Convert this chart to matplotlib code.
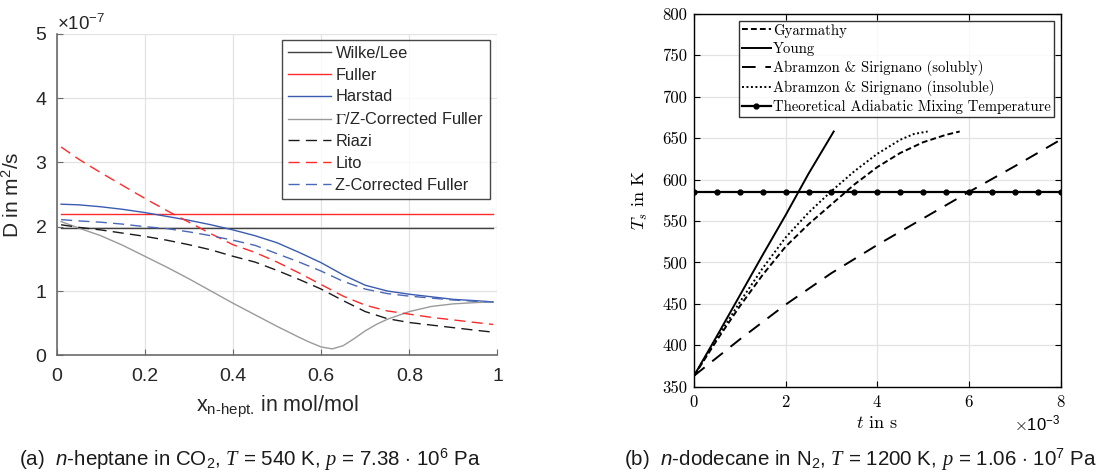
import numpy as np
import matplotlib
matplotlib.use("Agg")
import matplotlib.pyplot as plt
from matplotlib.ticker import ScalarFormatter

plt.rcParams['font.family'] = ['Liberation Sans', 'DejaVu Sans']
plt.rcParams['mathtext.fontset'] = 'custom'
plt.rcParams['mathtext.rm'] = 'Liberation Sans'
plt.rcParams['mathtext.it'] = 'Liberation Serif:italic'
plt.rcParams['mathtext.sf'] = 'Liberation Sans:italic'
plt.rcParams['mathtext.bf'] = 'Liberation Sans:bold'

# ---- (a) diffusion coefficients, values in 1e-7 m^2/s ----
x_hept = [0.01, 0.05, 0.1, 0.15, 0.2, 0.25, 0.3, 0.35, 0.4, 0.45, 0.5, 0.55,
          0.6, 0.65, 0.7, 0.75, 0.8, 0.85, 0.9, 0.95, 0.99]
D_wilke = [1.98] * 21
D_fuller = [2.19] * 21
D_harstad = [2.35, 2.34, 2.31, 2.27, 2.22, 2.16, 2.10, 2.03, 1.95, 1.86, 1.75,
             1.60, 1.44, 1.25, 1.09, 1.00, 0.95, 0.91, 0.87, 0.85, 0.83]
D_riazi = [2.03, 1.99, 1.95, 1.90, 1.85, 1.79, 1.72, 1.64, 1.54, 1.45, 1.32,
           1.18, 1.03, 0.85, 0.68, 0.57, 0.51, 0.47, 0.43, 0.39, 0.36]
D_lito = [3.24, 3.05, 2.84, 2.64, 2.44, 2.25, 2.07, 1.89, 1.72, 1.60, 1.45,
          1.28, 1.10, 0.92, 0.78, 0.69, 0.64, 0.59, 0.55, 0.51, 0.48]
D_zfuller = [2.11, 2.09, 2.07, 2.04, 2.00, 1.97, 1.92, 1.86, 1.79, 1.71, 1.58,
             1.45, 1.31, 1.15, 1.03, 0.96, 0.92, 0.89, 0.86, 0.84, 0.83]
# Gamma/Z corrected Fuller has a sharp minimum near 0.62
x_gz = [0.01, 0.05, 0.1, 0.15, 0.2, 0.25, 0.3, 0.35, 0.4, 0.45, 0.5, 0.55,
        0.575, 0.6, 0.625, 0.65, 0.675, 0.7, 0.725, 0.75, 0.8, 0.85, 0.9, 0.95, 0.99]
D_gz = [2.08, 1.98, 1.86, 1.71, 1.54, 1.37, 1.19, 1.00, 0.81, 0.63, 0.45, 0.28,
        0.20, 0.13, 0.10, 0.15, 0.26, 0.38, 0.48, 0.56, 0.68, 0.76, 0.80, 0.82, 0.83]

# ---- (b) droplet surface temperature, t in ms ----
t_young = [0, 0.5, 1.0, 1.5, 2.0, 2.5, 3.05]
T_young = [363, 411, 460, 509, 557, 607, 658]
t_gyar = [0, 0.5, 1.0, 1.5, 2.0, 2.5, 3.0, 3.5, 4.0, 4.5, 5.0, 5.5, 5.8]
T_gyar = [363, 406, 447, 485, 519, 546, 570, 594, 615, 632, 645, 654, 658]
t_sol = [0, 1, 2, 3, 4, 5, 6, 7, 8]
T_sol = [363, 407, 449, 487, 521, 553, 585, 616, 648]
t_insol = [0, 0.5, 1.0, 1.5, 2.0, 2.5, 3.0, 3.5, 4.0, 4.5, 4.8, 5.1]
T_insol = [363, 408, 452, 493, 530, 560, 586, 610, 631, 648, 655, 658]
t_mix = [0, 0.5, 1, 1.5, 2, 2.5, 3, 3.5, 4, 4.5, 5, 5.5, 6, 6.5, 7, 7.5, 8]
T_mix = [585] * 17

fig = plt.figure(figsize=(11.07, 4.74), dpi=100)

# ================= left panel =================
ax = fig.add_axes([0.0512, 0.2504, 0.3982, 0.6783])
ax_c = '#262626'
s = 1e-7
dash = (0, (8, 4.5))
ax.plot(x_hept, np.array(D_wilke) * s, color='#404040', lw=1.0, label='Wilke/Lee')
ax.plot(x_hept, np.array(D_fuller) * s, color='#ff2a2a', lw=1.0, label='Fuller')
ax.plot(x_hept, np.array(D_harstad) * s, color='#3a5bb0', lw=1.0, label='Harstad')
ax.plot(x_gz, np.array(D_gz) * s, color='#9a9a9a', lw=1.0, label=r'$\Gamma$/Z-Corrected Fuller')
ax.plot(x_hept, np.array(D_riazi) * s, color='#1a1a1a', lw=1.0, ls=dash, label='Riazi')
ax.plot(x_hept, np.array(D_lito) * s, color='#ff2a2a', lw=1.0, ls=dash, label='Lito')
ax.plot(x_hept, np.array(D_zfuller) * s, color='#4a68b8', lw=1.0, ls=dash, label='Z-Corrected Fuller')

ax.set_xlim(0, 1)
ax.set_ylim(0, 5e-7)
ax.set_xticks([0, 0.2, 0.4, 0.6, 0.8, 1])
ax.set_xticklabels(['0', '0.2', '0.4', '0.6', '0.8', '1'])
fmt = ScalarFormatter(useMathText=True)
fmt.set_powerlimits((0, 0))
ax.yaxis.set_major_formatter(fmt)
ax.yaxis.get_offset_text().set_fontsize(13.5)
ax.yaxis.get_offset_text().set_color(ax_c)
ax.grid(True, color='#e3e3e3', lw=0.9)
ax.set_axisbelow(True)
for sp in ['top', 'right']:
    ax.spines[sp].set_visible(False)
for sp in ['left', 'bottom']:
    ax.spines[sp].set_color('#6a6a6a')
    ax.spines[sp].set_linewidth(1.2)
ax.tick_params(direction='in', length=4, color='#6a6a6a', labelsize=14,
               labelcolor=ax_c)
ax.tick_params(axis='x', pad=9)
ax.tick_params(axis='y', pad=7)
ax.set_xlabel(r'x$_{\text{n-hept.}}$ in mol/mol', fontsize=15.5, color=ax_c)
ax.set_ylabel(r'D in m$^2$/s', fontsize=15, color=ax_c)
ax.xaxis.set_label_coords(0.5, -0.12)
ax.yaxis.set_label_coords(-0.076, 0.5)

leg = ax.legend(loc='upper right', bbox_to_anchor=(0.983, 0.981), borderaxespad=0,
                fontsize=11.8, handlelength=2.6, handletextpad=0.3, labelspacing=0.42,
                frameon=True, fancybox=False, edgecolor='#1a1a1a', borderpad=0.35)
leg.get_frame().set_linewidth(1.0)
for t in leg.get_texts():
    t.set_color(ax_c)
leg.get_texts()[3].set_math_fontfamily('stix')

# ================= right panel =================
bx = fig.add_axes([0.6269, 0.1844, 0.3311, 0.7863])
ms = 1e-3
bx.plot(np.array(t_gyar) * ms, T_gyar, color='k', lw=1.4, ls=(0, (3, 1.6)), label='Gyarmathy')
bx.plot(np.array(t_young) * ms, T_young, color='k', lw=1.4, label='Young')
bx.plot(np.array(t_sol) * ms, T_sol, color='k', lw=1.4, ls=(0, (7, 5)),
        label='Abramzon & Sirignano (solubly)')
bx.plot(np.array(t_insol) * ms, T_insol, color='k', lw=1.4, ls=(0, (1, 1.3)),
        label='Abramzon & Sirignano (insoluble)')
bx.plot(np.array(t_mix) * ms, T_mix, color='k', lw=1.6, marker='o', ms=3.5,
        label='Theoretical Adiabatic Mixing Temperature')

bx.set_xlim(0, 8e-3)
bx.set_ylim(350, 800)
bx.set_xticks([0, 2e-3, 4e-3, 6e-3, 8e-3])
bx.set_yticks([350, 400, 450, 500, 550, 600, 650, 700, 750, 800])
fmt2 = ScalarFormatter(useMathText=True)
fmt2.set_powerlimits((0, 0))
bx.xaxis.set_major_formatter(fmt2)
bx.grid(True, color='#e3e3e3', lw=0.9)
bx.set_axisbelow(True)
for sp in bx.spines.values():
    sp.set_color('k')
    sp.set_linewidth(1.0)
bx.tick_params(direction='in', length=4, top=True, right=True, labelsize=12, pad=5)
for lab in bx.get_xticklabels() + bx.get_yticklabels():
    lab.set_fontfamily('cmr10')
off = bx.xaxis.get_offset_text()
off.set_fontsize(12)
off.set_math_fontfamily('cm')
bx.set_xlabel(r'$t$ in s', fontsize=13, family='cmr10', math_fontfamily='cm')
bx.set_ylabel(r'$T_s$ in K', fontsize=13, family='cmr10', math_fontfamily='cm')
bx.xaxis.set_label_coords(0.5, -0.075)
bx.yaxis.set_label_coords(-0.12, 0.5)

leg2 = bx.legend(loc='upper right', bbox_to_anchor=(0.982, 0.982), borderaxespad=0,
                 prop={'family': 'cmr10', 'size': 10.6}, handlelength=2.0,
                 handletextpad=0.15, labelspacing=0.28, frameon=True, fancybox=False,
                 edgecolor='k', borderpad=0.2)
leg2.get_frame().set_linewidth(1.0)

# ================= captions =================
fig.text(0.0172, 0.03, r'(a)  $\mathsf{n}$-heptane in CO$_2$, $T$ = 540 K, $p$ = 7.38 $\cdot$ 10$^6$ Pa',
         fontsize=14.8, color='#1a1a1a', ha='left', va='center')
fig.text(0.564, 0.03, r'(b)  $\mathsf{n}$-dodecane in N$_2$, $T$ = 1200 K, $p$ = 1.06 $\cdot$ 10$^7$ Pa',
         fontsize=14.8, color='#1a1a1a', ha='left', va='center')

fig.savefig('out.png', dpi=100)
